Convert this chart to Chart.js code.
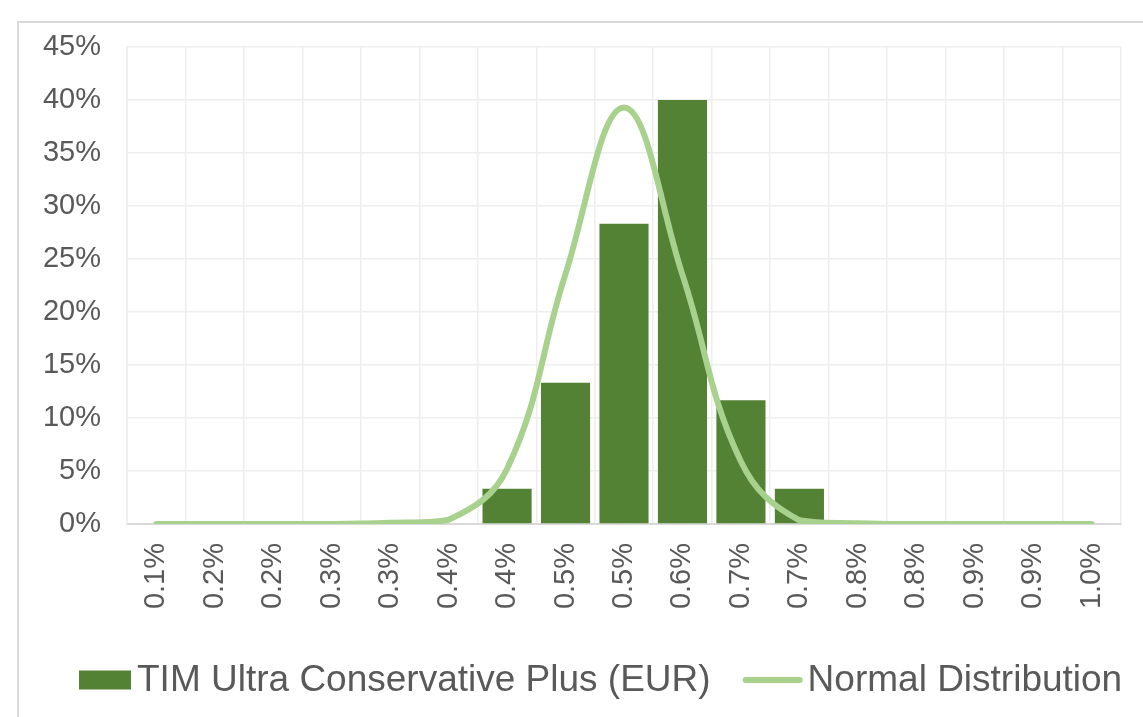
<!DOCTYPE html>
<html>
<head>
<meta charset="utf-8">
<script src="https://cdn.jsdelivr.net/npm/chart.js@4/dist/chart.umd.min.js"></script>
<style>
  html, body { margin: 0; padding: 0; background: #ffffff; }
  #wrap { position: relative; width: 1143px; height: 717px; }
  canvas { display: block; }
</style>
</head>
<body>
<div id="wrap"><canvas id="c" width="1143" height="717"></canvas></div>
<script>
// ---- data ----
const categories = ['0.1%','0.2%','0.2%','0.3%','0.3%','0.4%','0.4%','0.5%','0.5%','0.6%','0.7%','0.7%','0.8%','0.8%','0.9%','0.9%','1.0%'];
const fundValues = [0, 0, 0, 0, 0, 0, 3.33, 13.33, 28.33, 40, 11.67, 3.33, 0, 0, 0, 0, 0];
const normalValues = [0, 0, 0, 0, 0.12, 0.4, 5.2, 23.6, 39.3, 23.5, 5.9, 0.35, 0.08, 0, 0, 0, 0];
const yTicks = [0, 5, 10, 15, 20, 25, 30, 35, 40, 45];
const seriesNames = ['TIM Ultra Conservative Plus (EUR)', 'Normal Distribution'];

const BAR_COLOR = '#548235';
const LINE_COLOR = '#A9D18E';
const TEXT_COLOR = '#595959';
const FONT = '"Liberation Sans", Arial, sans-serif';

const framePlugin = {
  id: 'frame',
  beforeDraw(chart) {
    const ctx = chart.ctx;
    ctx.save();
    ctx.strokeStyle = '#d9d9d9';
    ctx.lineWidth = 2;
    ctx.beginPath();
    ctx.moveTo(18, 717);
    ctx.lineTo(18, 22);
    ctx.lineTo(1143, 22);
    ctx.stroke();
    ctx.restore();
  }
};

const legendPlugin = {
  id: 'customLegend',
  afterDraw(chart) {
    const ctx = chart.ctx;
    ctx.save();
    ctx.font = '37px ' + FONT;
    ctx.fillStyle = TEXT_COLOR;
    ctx.textBaseline = 'middle';
    ctx.textAlign = 'left';
    const cy = 680;
    let x = 79;
    // bar swatch
    ctx.fillStyle = BAR_COLOR;
    ctx.fillRect(x, cy - 9.5, 52, 19);
    x += 52 + 6;
    ctx.fillStyle = TEXT_COLOR;
    ctx.fillText(seriesNames[0], x, cy + 1);
    x += ctx.measureText(seriesNames[0]).width + 35;
    // line swatch
    ctx.strokeStyle = LINE_COLOR;
    ctx.lineWidth = 6;
    ctx.lineCap = 'round';
    ctx.beginPath();
    ctx.moveTo(x, cy);
    ctx.lineTo(x + 54, cy);
    ctx.stroke();
    x += 54 + 8;
    ctx.fillText(seriesNames[1], x, cy + 1);
    ctx.restore();
  }
};

new Chart(document.getElementById('c'), {
  type: 'bar',
  data: {
    labels: categories,
    datasets: [
      {
        type: 'line',
        label: seriesNames[1],
        data: normalValues,
        borderColor: LINE_COLOR,
        backgroundColor: LINE_COLOR,
        borderWidth: 6,
        borderCapStyle: 'round',
        borderJoinStyle: 'round',
        pointRadius: 0,
        tension: 0.4,
        fill: false,
        order: 0
      },
      {
        type: 'bar',
        label: seriesNames[0],
        data: fundValues,
        backgroundColor: BAR_COLOR,
        borderWidth: 0,
        categoryPercentage: 1.0,
        barPercentage: 0.84,
        order: 1
      }
    ]
  },
  options: {
    responsive: false,
    animation: false,
    devicePixelRatio: 1,
    layout: { padding: { left: 0, top: 47, right: 22, bottom: 0 } },
    plugins: {
      legend: { display: false },
      tooltip: { enabled: false },
      title: { display: false }
    },
    scales: {
      x: {
        grid: { display: true, offset: true, color: '#eeeeee', lineWidth: 1.5, drawTicks: false },
        border: { display: true, color: '#d9d9d9', width: 2 },
        ticks: {
          autoSkip: false,
          minRotation: 90,
          maxRotation: 90,
          padding: 19,
          color: TEXT_COLOR,
          font: { family: FONT, size: 29 }
        },
        afterFit(scale) {
          scale.height = 193;
          scale.paddingLeft = 0;
          scale.paddingRight = 0;
        }
      },
      y: {
        min: 0,
        max: 45,
        afterBuildTicks(scale) { scale.ticks = yTicks.map(v => ({ value: v })); },
        grid: { color: '#eeeeee', lineWidth: 1.5, drawTicks: false },
        border: { display: true, color: '#eeeeee', width: 1.5 },
        ticks: {
          padding: 26,
          color: TEXT_COLOR,
          font: { family: FONT, size: 29 },
          callback: (v) => v + '%'
        },
        afterFit(scale) {
          scale.width = 127;
          scale.paddingTop = 0;
          scale.paddingBottom = 0;
        }
      }
    }
  },
  plugins: [framePlugin, legendPlugin]
});
</script>
</body>
</html>
